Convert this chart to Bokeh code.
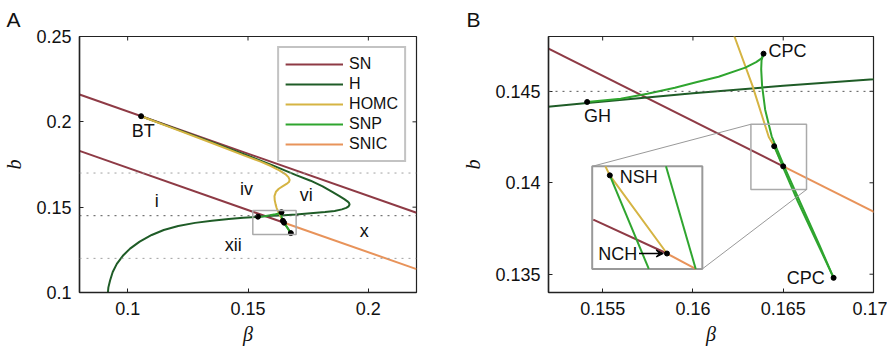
import math
from bokeh.plotting import figure
from bokeh.layouts import row
from bokeh.models import (Range1d, FixedTicker, Span, Label, Legend, Title,
                          LegendItem, Arrow, VeeHead)
from bokeh.core.properties import value
from bokeh.embed import file_html
from bokeh.resources import INLINE

# ------------------------------------------------------------------ data
# saddle-node (SN) lines and SNIC continuation
sn_upper_beta = [0.08, 0.22]
sn_upper_b = [0.216, 0.1467]
sn_lower_beta = [0.08, 0.165]
sn_lower_b = [0.183, 0.1409]
snic_beta = [0.165, 0.22]
snic_b = [0.1409, 0.1137]

# Hopf curve (from BT along upper branch, round the fold, down to b = 0.1)
h_beta = [0.1056, 0.120, 0.135, 0.150, 0.160, 0.170, 0.176, 0.181, 0.185, 0.188,
          0.1900, 0.1913, 0.1920, 0.1922, 0.1918, 0.1908, 0.1890, 0.1860, 0.1820,
          0.1760, 0.1700, 0.1650, 0.1600, 0.1540, 0.1480, 0.1420, 0.1350, 0.1280,
          0.1210, 0.1150, 0.1100, 0.1050, 0.1010, 0.0980, 0.0955, 0.0938, 0.0927,
          0.0920, 0.0918]
h_b = [0.2033, 0.1959, 0.1881, 0.1801, 0.1746, 0.1688, 0.1655, 0.1622, 0.1590, 0.1565,
       0.1547, 0.1534, 0.1525, 0.1515, 0.1505, 0.1496, 0.1487, 0.1478, 0.1471,
       0.1465, 0.14566, 0.1453, 0.1449, 0.14435, 0.1438, 0.1431, 0.1421, 0.1408,
       0.1390, 0.1366, 0.1337, 0.1298, 0.1257, 0.1215, 0.1168, 0.1120, 0.1070,
       0.1030, 0.1000]

# homoclinic (HOMC) curve
homc_beta = [0.1056, 0.120, 0.135, 0.148, 0.155, 0.1595, 0.1630, 0.1655, 0.1668, 0.1673,
             0.1670, 0.1660, 0.1645, 0.1628, 0.1616, 0.1610, 0.1611, 0.1615, 0.1619,
             0.1623, 0.1633, 0.1642, 0.1645, 0.1650]
homc_b = [0.2033, 0.1956, 0.1876, 0.1805, 0.1768, 0.1741, 0.1716, 0.1694, 0.1676, 0.1660,
          0.1647, 0.1636, 0.1623, 0.1608, 0.1590, 0.1565, 0.1540, 0.1515, 0.1495,
          0.1480, 0.1453, 0.1425, 0.1420, 0.1409]

# saddle-node of periodic orbits (SNP) branches
snp1_beta = [0.15414, 0.1560, 0.15748, 0.1590, 0.16023, 0.16142, 0.1629, 0.1635, 0.1638, 0.16391]
snp1_b = [0.14442, 0.1446, 0.14487, 0.1452, 0.14551, 0.1458, 0.1463, 0.1466, 0.1468, 0.14706]
snp2_beta = [0.16391, 0.16380, 0.16378, 0.16383, 0.1640, 0.16436, 0.16505, 0.1660, 0.1670, 0.16779]
snp2_b = [0.14706, 0.1467, 0.1462, 0.1453, 0.1440, 0.14254, 0.1409, 0.1388, 0.1366, 0.1348]
snp3_beta = [0.16779, 0.1668, 0.1658, 0.1651, 0.1645]
snp3_b = [0.1348, 0.1369, 0.1390, 0.1406, 0.1420]

# special points
pt_beta = [0.1056, 0.15414, 0.16391, 0.1645, 0.1650, 0.16779]
pt_b = [0.2033, 0.14442, 0.14706, 0.1420, 0.1409, 0.1348]

# reference levels of b (dotted)
dotted_b = [0.17, 0.145, 0.12]

# region labels in panel A
region_text = ["i", "iv", "vi", "x", "xii"]
region_beta = [0.1121, 0.1494, 0.1742, 0.1983, 0.1439]
region_b = [0.1539, 0.1607, 0.1573, 0.1363, 0.1278]

# inset of panel B (inset-local coordinates, 0..1)
in_sn_u, in_sn_v = [0.01, 0.679], [0.481, 0.15]
in_snic_u, in_snic_v = [0.679, 0.94], [0.15, 0.0]
in_homc_u, in_homc_v = [0.12, 0.16, 0.679], [1.0, 0.912, 0.15]
in_snpl_u, in_snpl_v = [0.16, 0.514], [0.912, 0.0]
in_snpr_u, in_snpr_v = [0.67, 0.94], [1.0, 0.0]
in_pt_u, in_pt_v = [0.16, 0.679], [0.912, 0.15]

# ticks
a_xticks = [0.1, 0.15, 0.2]
a_xlabels = ["0.1", "0.15", "0.2"]
a_yticks = [0.1, 0.15, 0.2, 0.25]
a_ylabels = ["0.1", "0.15", "0.2", "0.25"]
b_xticks = [0.155, 0.16, 0.165, 0.17]
b_xlabels = ["0.155", "0.16", "0.165", "0.17"]
b_yticks = [0.135, 0.14, 0.145]
b_ylabels = ["0.135", "0.14", "0.145"]

A_XR, A_YR = (0.08, 0.22), (0.1, 0.25)
B_XR, B_YR = (0.152, 0.17), (0.134, 0.148)

# ------------------------------------------------------------------ style
FONT = "Liberation Sans"
SERIF = "Liberation Serif"
C_SN = "#8e3a45"
C_H = "#1f5c27"
C_HOMC = "#d5b443"
C_SNP = "#2fa52f"
C_SNIC = "#e8935a"
C_TXT = "#111111"
LW = 2


def make_fig(xr, yr, fw, mbl, mbr, xt, xl, yt, yl, ylab_standoff, letter, letter_off):
    p = figure(frame_width=fw, frame_height=256,
               x_range=Range1d(*xr), y_range=Range1d(*yr),
               output_backend="svg", toolbar_location=None,
               min_border_left=mbl, min_border_right=mbr,
               min_border_top=28, min_border_bottom=50)
    p.title = Title(text=letter, align="left", offset=letter_off, standoff=11,
                    text_font=FONT, text_font_size="21px", text_font_style="normal",
                    text_color=C_TXT)
    p.grid.visible = False
    p.outline_line_color = "#222222"
    p.outline_line_width = 1.2
    for ax, ticks, labels in ((p.xaxis[0], xt, xl), (p.yaxis[0], yt, yl)):
        ax.ticker = FixedTicker(ticks=ticks)
        ax.major_label_overrides = {t: s for t, s in zip(ticks, labels)}
        ax.major_tick_in = 4
        ax.major_tick_out = 0
        ax.major_tick_line_color = "#222222"
        ax.minor_tick_line_color = None
        ax.axis_line_color = "#222222"
        ax.axis_line_width = 1.5
        ax.major_label_text_font = FONT
        ax.major_label_text_font_size = "18px"
        ax.major_label_text_color = C_TXT
        ax.axis_label_text_font = SERIF
        ax.axis_label_text_font_style = "italic"
        ax.axis_label_text_font_size = "20px"
        ax.axis_label_text_color = C_TXT
    p.xaxis.axis_label = "β"
    p.yaxis.axis_label = "b"
    p.xaxis.major_label_standoff = 9
    p.xaxis.axis_label_standoff = 5
    p.yaxis.major_label_standoff = 8
    p.yaxis.axis_label_standoff = ylab_standoff
    # mirror tick marks on the top and right edges (half of each dash is clipped)
    p.scatter(xt, [yr[1]] * len(xt), marker="dash", angle=math.pi / 2, size=8,
              line_color="#222222", line_width=1)
    p.scatter([xr[1]] * len(yt), yt, marker="dash", size=8,
              line_color="#222222", line_width=1)
    for lvl in dotted_b:
        dark = abs(lvl - 0.145) < 1e-9
        p.add_layout(Span(location=lvl, dimension="width", line_dash="2 5",
                          line_color="#555555" if dark else "#a0a0a0", line_width=1))
    return p


def curves(p):
    r = {}
    r["SN"] = p.line(sn_upper_beta, sn_upper_b, line_color=C_SN, line_width=LW)
    p.line(sn_lower_beta, sn_lower_b, line_color=C_SN, line_width=LW)
    r["SNIC"] = p.line(snic_beta, snic_b, line_color=C_SNIC, line_width=LW)
    r["H"] = p.line(h_beta, h_b, line_color=C_H, line_width=LW)
    r["HOMC"] = p.line(homc_beta, homc_b, line_color=C_HOMC, line_width=LW)
    r["SNP"] = p.line(snp1_beta, snp1_b, line_color=C_SNP, line_width=LW)
    p.line(snp2_beta, snp2_b, line_color=C_SNP, line_width=LW)
    p.line(snp3_beta, snp3_b, line_color=C_SNP, line_width=LW)
    p.scatter(pt_beta, pt_b, size=5, color="black")
    return r


def txt(p, x, y, s, align="center", baseline="middle", size="18px"):
    p.add_layout(Label(x=x, y=y, text=s, text_align=align, text_baseline=baseline,
                       text_font=FONT, text_font_size=size, text_color=C_TXT))


# ------------------------------------------------------------------ panel A
pA = make_fig(A_XR, A_YR, 337, 72, 43, a_xticks, a_xlabels, a_yticks, a_ylabels, 8,
              "A", -73)
rA = curves(pA)
pA.quad(left=[B_XR[0]], right=[B_XR[1]], bottom=[B_YR[0]], top=[B_YR[1]],
        fill_color=None, line_color="#aaaaaa", line_width=1.5)
pA.text(region_beta, region_b, text=region_text, text_align="center",
        text_baseline="middle", text_font=value(FONT), text_font_size="18px",
        text_color=C_TXT)
txt(pA, 0.1065, 0.1946, "BT")
legend = Legend(items=[LegendItem(label=k, renderers=[rA[k]])
                       for k in ["SN", "H", "HOMC", "SNP", "SNIC"]],
                location="top_right", margin=10, padding=6, spacing=0,
                glyph_width=58, glyph_height=20, label_height=20, label_standoff=6,
                label_text_font=FONT, label_text_font_size="16px",
                label_text_color=C_TXT, border_line_color="#888888",
                border_line_width=2, background_fill_alpha=1)
pA.add_layout(legend)

# ------------------------------------------------------------------ panel B
pB = make_fig(B_XR, B_YR, 325, 88, 14, b_xticks, b_xlabels, b_yticks, b_ylabels, 8,
              "B", -82)
curves(pB)
# small box and inset frame
sbx0, sbx1, sby0, sby1 = 0.16321, 0.16629, 0.13963, 0.1432
ix0, ix1, iy0, iy1 = 0.15442, 0.16052, 0.13529, 0.1409
pB.quad(left=[sbx0], right=[sbx1], bottom=[sby0], top=[sby1],
        fill_color=None, line_color="#aaaaaa", line_width=1.5)
pB.segment(x0=[sbx0, sbx1], y0=[sby1, sby0], x1=[ix0, ix1], y1=[iy1, iy0],
           line_color="#999999", line_width=1)
pB.quad(left=[ix0], right=[ix1], bottom=[iy0], top=[iy1],
        fill_color="white", line_color="#999999", line_width=2)


def to_b(u, v):
    return ([ix0 + a * (ix1 - ix0) for a in u], [iy0 + a * (iy1 - iy0) for a in v])


for (u, v), col in (((in_sn_u, in_sn_v), C_SN), ((in_snic_u, in_snic_v), C_SNIC),
                    ((in_homc_u, in_homc_v), C_HOMC), ((in_snpl_u, in_snpl_v), C_SNP),
                    ((in_snpr_u, in_snpr_v), C_SNP)):
    xs, ys = to_b(u, v)
    pB.line(xs, ys, line_color=col, line_width=LW)
xs, ys = to_b(in_pt_u, in_pt_v)
pB.scatter(xs, ys, size=5, color="black")

(nx,), (ny,) = to_b([0.25], [0.896])
txt(pB, nx, ny, "NSH", align="left")
(cx,), (cy,) = to_b([0.41], [0.15])
txt(pB, cx, cy, "NCH", align="right")
(ax0, ax1), (ay0, ay1) = to_b([0.425, 0.645], [0.15, 0.15])
pB.add_layout(Arrow(end=VeeHead(size=7, line_color="black", fill_color="black",
                                line_width=1.2),
                    x_start=ax0, y_start=ay0, x_end=ax1, y_end=ay1,
                    line_color="black", line_width=1.5))
txt(pB, 0.15396, 0.14366, "GH", align="left")
txt(pB, 0.16418, 0.1472, "CPC", align="left")
txt(pB, 0.1673, 0.1348, "CPC", align="right")

layout = row(pA, pB)
open("out.html", "w").write(file_html(layout, INLINE))
